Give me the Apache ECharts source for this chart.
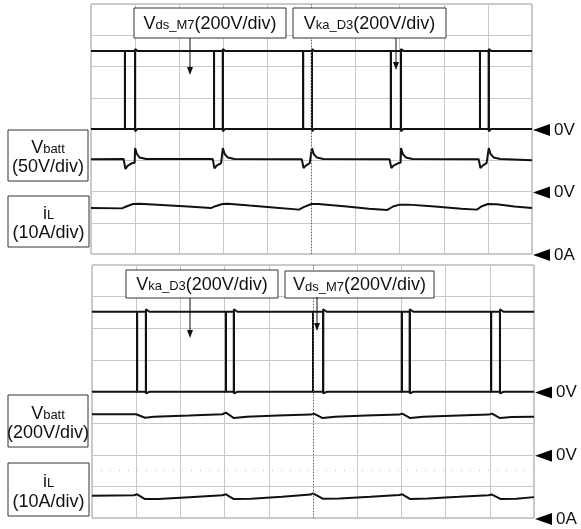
<!DOCTYPE html>
<html><head><meta charset="utf-8">
<script src="https://cdn.jsdelivr.net/npm/echarts@6/dist/echarts.min.js"></script>
<style>html,body{margin:0;padding:0;background:#fff}#c{width:581px;height:529px}</style>
</head><body><div id="c"></div>
<script>
// ---- Data (in scope divisions: x 0..10, y 0..8) ----
// Top panel
const p1Vds = [[0,6.5],[0.77,6.5],[0.77,4.0],[1.0,4.0],[1.0,6.56],[1.05,6.5],[2.79,6.5],[2.79,4.0],[2.99,4.0],[2.99,6.56],[3.04,6.5],[4.81,6.5],[4.81,4.0],[5.01,4.0],[5.01,6.56],[5.06,6.5],[6.80,6.5],[6.80,4.0],[7.03,4.0],[7.03,6.56],[7.08,6.5],[8.82,6.5],[8.82,4.0],[9.02,4.0],[9.02,6.56],[9.07,6.5],[10,6.5]];
const p1Vka = [[0,4.0],[0.77,4.0],[0.77,6.5],[1.0,6.5],[1.0,3.93],[1.05,4.0],[2.79,4.0],[2.79,6.5],[2.99,6.5],[2.99,3.93],[3.04,4.0],[4.81,4.0],[4.81,6.5],[5.01,6.5],[5.01,3.93],[5.06,4.0],[6.80,4.0],[6.80,6.5],[7.03,6.5],[7.03,3.93],[7.08,4.0],[8.82,4.0],[8.82,6.5],[9.02,6.5],[9.02,3.93],[9.07,4.0],[10,4.0]];
const p1Vbatt = [[0,3.03],[0.74,3.04],[0.78,2.72],[0.83,2.82],[0.93,2.91],[0.99,2.92],[1.0,3.39],[1.04,3.2],[1.1,3.09],[1.25,3.04],
  [2.76,3.04],[2.8,2.74],[2.85,2.83],[2.95,2.91],[2.98,2.92],[2.99,3.39],[3.03,3.2],[3.1,3.09],[3.25,3.04],
  [4.78,3.03],[4.82,2.75],[4.87,2.83],[4.96,2.91],[5.0,2.92],[5.01,3.39],[5.05,3.2],[5.12,3.09],[5.27,3.04],
  [6.77,3.03],[6.81,2.75],[6.86,2.83],[6.97,2.91],[7.02,2.92],[7.03,3.39],[7.07,3.2],[7.14,3.09],[7.29,3.04],
  [8.79,3.03],[8.83,2.75],[8.88,2.83],[8.97,2.91],[9.01,2.92],[9.02,3.39],[9.06,3.2],[9.13,3.09],[9.28,3.04],[10,3.0]];
const p1IL = [[0,1.47],[0.7,1.46],[0.8,1.52],[0.95,1.6],[1.1,1.61],[1.6,1.57],[2.2,1.52],[2.72,1.47],[2.82,1.53],[2.98,1.6],[3.1,1.61],[3.6,1.55],[4.2,1.48],[4.72,1.42],[4.82,1.5],[5.0,1.6],[5.15,1.6],[5.8,1.52],[6.3,1.45],[6.72,1.41],[6.85,1.52],[7.0,1.58],[7.2,1.58],[7.8,1.52],[8.4,1.45],[8.75,1.42],[8.85,1.52],[9.0,1.6],[9.2,1.59],[9.6,1.52],[10,1.47]];
// Bottom panel
const p2Vka = [[0,6.52],[1.02,6.52],[1.02,3.99],[1.22,3.99],[1.22,6.6],[1.3,6.52],[3.03,6.52],[3.03,3.99],[3.21,3.99],[3.21,6.6],[3.29,6.52],[5.0,6.52],[5.0,3.99],[5.23,3.99],[5.23,6.6],[5.31,6.52],[7.01,6.52],[7.01,3.99],[7.19,3.99],[7.19,6.6],[7.27,6.52],[9.03,6.52],[9.03,3.99],[9.23,3.99],[9.23,6.6],[9.31,6.52],[10,6.52]];
const p2Vds = [[0,3.99],[1.02,3.99],[1.02,6.52],[1.22,6.52],[1.22,3.94],[1.3,3.99],[3.03,3.99],[3.03,6.52],[3.21,6.52],[3.21,3.94],[3.29,3.99],[5.0,3.99],[5.0,6.52],[5.23,6.52],[5.23,3.94],[5.31,3.99],[7.01,3.99],[7.01,6.52],[7.19,6.52],[7.19,3.94],[7.27,3.99],[9.03,3.99],[9.03,6.52],[9.23,6.52],[9.23,3.94],[9.31,3.99],[10,3.99]];
const p2Vbatt = [[0,3.28],[1.0,3.28],[1.04,3.31],[1.2,3.17],[1.4,3.2],[2.2,3.24],[2.95,3.28],[3.03,3.33],[3.21,3.16],[3.5,3.2],[4.2,3.24],[4.95,3.27],[5.02,3.3],[5.22,3.16],[5.5,3.2],[6.2,3.24],[6.95,3.27],[7.02,3.3],[7.2,3.16],[7.5,3.2],[8.3,3.24],[8.98,3.27],[9.05,3.3],[9.23,3.16],[9.5,3.19],[10,3.2]];
const p2IL = [[0,0.7],[0.95,0.72],[1.02,0.75],[1.2,0.6],[1.5,0.6],[2.2,0.66],[2.95,0.72],[3.03,0.75],[3.21,0.6],[3.6,0.61],[4.3,0.67],[4.95,0.74],[5.0,0.78],[5.22,0.61],[5.6,0.62],[6.3,0.67],[6.95,0.73],[7.02,0.75],[7.2,0.6],[7.6,0.62],[8.3,0.67],[8.97,0.72],[9.05,0.74],[9.25,0.6],[9.6,0.61],[10,0.66]];
// Reference level markers (division value, text)
const refLevels = [4, 2, 0];
const refTexts = ['0V', '0V', '0A'];

const FONT = '"Liberation Sans", Arial, sans-serif';
const chart = echarts.init(document.getElementById('c'));

function axX(i){return {type:'value',gridIndex:i,min:0,max:10,interval:1,axisLabel:{show:false},axisTick:{show:false},axisLine:{show:false},splitLine:{show:true,lineStyle:{color:'#c8c8c8',width:1}}};}
function axY(i){return {type:'value',gridIndex:i,min:0,max:8,interval:1,axisLabel:{show:false},axisTick:{show:false},axisLine:{show:false},splitLine:{show:true,lineStyle:{color:'#c8c8c8',width:1}}};}
function trace(i,data,extra){return Object.assign({type:'line',xAxisIndex:i,yAxisIndex:i,data:data,showSymbol:false,symbol:'none',animation:false,silent:true,lineStyle:{color:'#111',width:2}},extra||{});}
const centerLine = {silent:true,symbol:'none',label:{show:false},lineStyle:{color:'#666',type:[1,2],width:1},data:[{xAxis:5}]};

chart.setOption({
  animation:false,
  grid:[
    {left:91,top:4,width:441,height:250,show:true,borderColor:'#999',borderWidth:1},
    {left:92,top:265,width:442,height:253,show:true,borderColor:'#999',borderWidth:1}
  ],
  xAxis:[axX(0),axX(1)],
  yAxis:[axY(0),axY(1)],
  series:[
    trace(0,p1Vds,{markLine:centerLine}),
    trace(0,p1Vka),
    trace(0,p1Vbatt),
    trace(0,p1IL),
    trace(1,p2Vka,{markLine:Object.assign({},centerLine,{data:[{xAxis:5},{yAxis:1.5,lineStyle:{color:'#bbb',type:[1,8]}}]})}),
    trace(1,p2Vds),
    trace(1,p2Vbatt),
    trace(1,p2IL)
  ]
});

// ---- annotations ----
const g = [];
function topBox(x,y,w,h,big,small,rest){
  g.push({type:'rect',shape:{x:x,y:y,width:w,height:h},style:{fill:'#fff',stroke:'#333',lineWidth:1},z:10});
  g.push({type:'text',x:x+w/2,y:y+h/2+1,z:11,style:{text:'{a|'+big+'}{b|'+small+'}{a|'+rest+'}',align:'center',verticalAlign:'middle',
    rich:{a:{fontSize:18,fontFamily:FONT,fill:'#111',verticalAlign:'bottom'},b:{fontSize:13,fontFamily:FONT,fill:'#111',verticalAlign:'bottom',padding:[0,0,1,0]}}}});
}
function sideBox(x,y,w,h,big,small,line2){
  g.push({type:'rect',shape:{x:x,y:y,width:w,height:h},style:{fill:'#fff',stroke:'#333',lineWidth:1},z:10});
  g.push({type:'text',x:x+w/2,y:y+h*0.36,z:11,style:{text:'{a|'+big+'}{b|'+small+'}',align:'center',verticalAlign:'middle',
    rich:{a:{fontSize:18,fontFamily:FONT,fill:'#111',verticalAlign:'bottom'},b:{fontSize:13,fontFamily:FONT,fill:'#111',verticalAlign:'bottom',padding:[0,0,1,0]}}}});
  g.push({type:'text',x:x+w/2,y:y+h*0.73,z:11,style:{text:line2,fontSize:18,fontFamily:FONT,fill:'#111',align:'center',verticalAlign:'middle'}});
}
function arrow(x,y1,y2){
  g.push({type:'line',shape:{x1:x,y1:y1,x2:x,y2:y2-6},style:{stroke:'#111',lineWidth:1},z:12});
  g.push({type:'polygon',shape:{points:[[x-3,y2-8],[x+3,y2-8],[x,y2]]},style:{fill:'#111'},z:12});
}
topBox(134,8,152,30,'V','ds_M7','(200V/div)');
topBox(293,8,153,30,'V','ka_D3','(200V/div)');
arrow(190,38,75);
arrow(396,38,70);
topBox(126,270,152,28,'V','ka_D3','(200V/div)');
topBox(285,271,149,27,'V','ds_M7','(200V/div)');
arrow(190,298,338);
arrow(317,297,331);
sideBox(8,130,80,51,'V','batt','(50V/div)');
sideBox(8,196,81,51,'i','L','(10A/div)');
sideBox(8,395,80,52,'V','batt','(200V/div)');
sideBox(8,463,81,53,'i','L','(10A/div)');

[0,1].forEach(function(gi){
  refLevels.forEach(function(lv,k){
    const p = chart.convertToPixel({xAxisIndex:gi,yAxisIndex:gi},[10,lv]);
    const x = p[0]+1, y = p[1]+1;
    g.push({type:'polygon',shape:{points:[[x,y],[x+17,y-6],[x+17,y+6]]},style:{fill:'#000'},z:12});
    g.push({type:'text',x:x+21,y:y,z:12,style:{text:refTexts[k],fontSize:17,fontFamily:FONT,fill:'#111',align:'left',verticalAlign:'middle'}});
  });
});
chart.setOption({graphic:g});
</script></body></html>
